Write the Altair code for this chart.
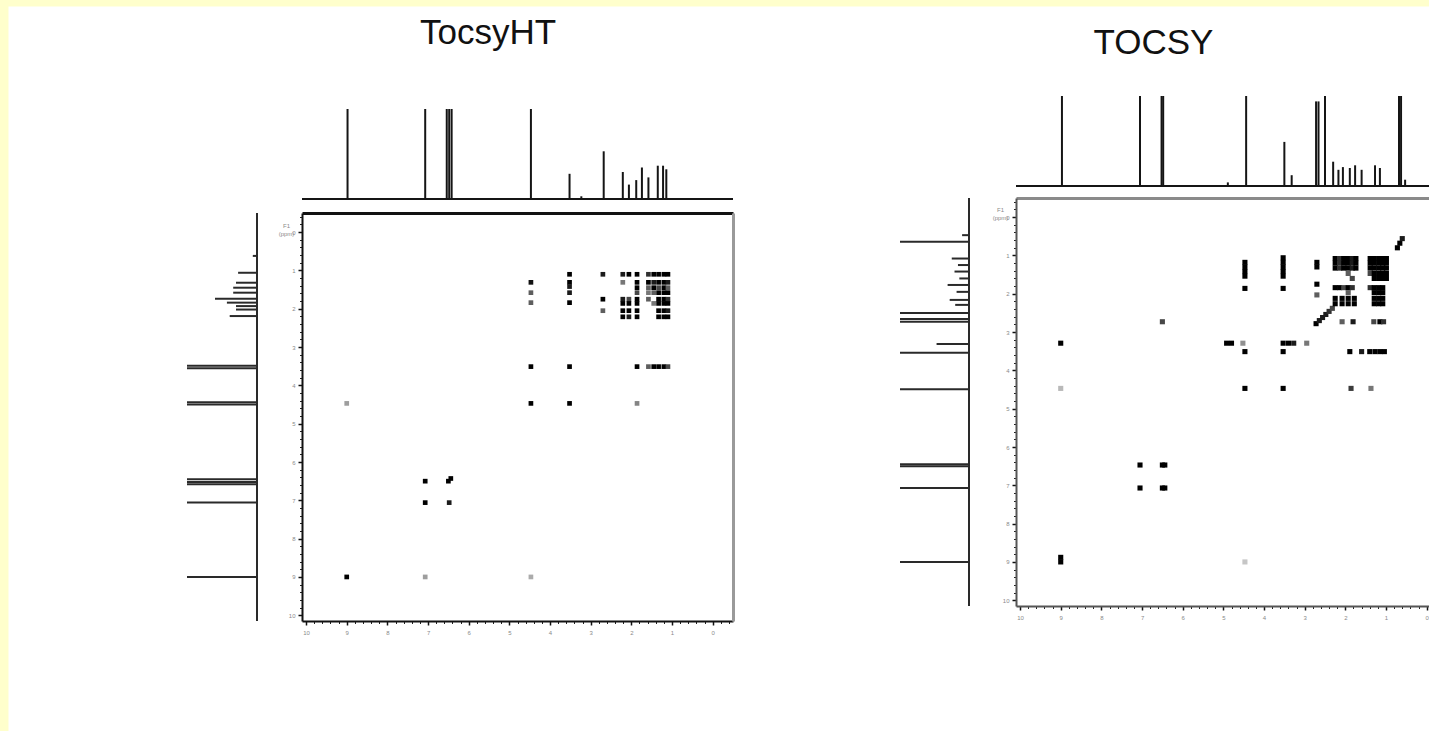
import altair as alt
import pandas as pd

# Chemical-shift window (ppm) shared by both 2D maps and their projections
F2_START, F2_END = 10.1, -0.5     # direct dimension, high -> low, left to right
F1_START, F1_END = -0.5, 10.15    # indirect dimension, low -> high, top to bottom

# ---------------- TocsyHT ----------------
ht_top_ppm = [8.98, 7.07, 6.54, 6.48, 6.42, 4.47, 3.52, 3.23, 2.68,
              2.21, 2.06, 1.88, 1.74, 1.58, 1.35, 1.22, 1.14]
ht_top_int = [1.0, 1.0, 1.0, 1.0, 1.0, 1.0, 0.28, 0.03, 0.53,
              0.30, 0.16, 0.21, 0.35, 0.24, 0.37, 0.37, 0.33]

ht_side_ppm = [9.00, 7.06, 6.58, 6.52, 6.45, 4.50, 4.44, 3.55, 3.49,
               2.19, 2.02, 1.93, 1.84, 1.74, 1.58, 1.45, 1.32, 1.06, 0.62]
ht_side_int = [1.0, 1.0, 1.0, 1.0, 1.0, 1.0, 1.0, 1.0, 1.0,
               0.39, 0.30, 0.30, 0.43, 0.60, 0.34, 0.34, 0.30, 0.27, 0.06]

# cross peaks: (F2 ppm, F1 ppm, contour level)
ht_cross = [
    (9.00, 9.00, 1.0), (7.07, 9.00, 0.35), (4.47, 9.00, 0.3), (9.00, 4.47, 0.35),
    (7.07, 6.50, 1.0), (6.50, 6.50, 1.0), (6.44, 6.43, 1.0),
    (7.07, 7.06, 1.0), (6.48, 7.06, 0.9),
    (4.47, 4.47, 1.0), (3.52, 4.47, 1.0), (1.86, 4.47, 0.45),
    (4.47, 3.51, 1.0), (3.52, 3.51, 1.0), (1.86, 3.51, 1.0), (1.58, 3.51, 0.6),
    (1.45, 3.51, 1.0), (1.33, 3.51, 1.0), (1.20, 3.51, 1.0), (1.10, 3.51, 0.7),
    (4.47, 1.31, 0.95), (4.47, 1.58, 0.6), (4.47, 1.84, 0.6),
    (3.52, 1.10, 1.0), (3.52, 1.31, 1.0), (3.52, 1.42, 0.9), (3.52, 1.58, 0.9), (3.52, 1.84, 1.0),
    (2.70, 1.10, 0.9), (2.70, 1.75, 1.0), (2.70, 2.05, 0.6),
    (2.21, 1.10, 0.9), (2.06, 1.10, 1.0), (1.86, 1.10, 1.0), (1.58, 1.10, 0.8),
    (1.45, 1.10, 1.0), (1.33, 1.10, 1.0), (1.20, 1.10, 1.0), (1.10, 1.10, 1.0),
    (2.21, 1.31, 0.5), (1.86, 1.31, 1.0), (1.58, 1.31, 1.0), (1.45, 1.31, 0.9),
    (1.33, 1.31, 1.0), (1.20, 1.31, 1.0), (1.10, 1.31, 0.9),
    (1.86, 1.45, 1.0), (1.58, 1.45, 0.6), (1.45, 1.45, 1.0), (1.33, 1.45, 0.7),
    (1.20, 1.45, 1.0), (1.10, 1.45, 0.6),
    (1.86, 1.58, 0.7), (1.58, 1.58, 0.5), (1.45, 1.58, 0.6), (1.33, 1.58, 1.0),
    (1.20, 1.58, 1.0), (1.10, 1.58, 1.0),
    (2.21, 1.75, 0.9), (2.06, 1.75, 0.7), (1.86, 1.75, 1.0), (1.58, 1.75, 0.6),
    (1.33, 1.75, 1.0), (1.20, 1.75, 1.0), (1.10, 1.75, 0.8),
    (2.21, 1.86, 1.0), (2.06, 1.86, 1.0), (1.86, 1.86, 1.0), (1.45, 1.86, 0.5),
    (1.33, 1.86, 1.0), (1.20, 1.86, 1.0), (1.10, 1.86, 1.0),
    (2.21, 2.05, 1.0), (2.06, 2.05, 1.0), (1.86, 2.05, 1.0), (1.33, 2.05, 1.0),
    (1.20, 2.05, 1.0), (1.10, 2.05, 0.9),
    (2.21, 2.21, 1.0), (2.06, 2.21, 0.9), (1.86, 2.21, 1.0), (1.33, 2.21, 1.0),
    (1.20, 2.21, 1.0), (1.10, 2.21, 1.0),
]

# ---------------- TOCSY ----------------
ts_top_ppm = [8.97, 7.05, 6.52, 6.48, 4.89, 4.44, 3.50, 3.32, 2.72, 2.66, 2.50,
              2.30, 2.17, 2.06, 1.89, 1.76, 1.60, 1.27, 1.15, 0.68, 0.63, 0.53]
ts_top_int = [1.0, 1.0, 1.0, 1.0, 0.04, 1.0, 0.49, 0.12, 0.94, 0.94, 1.0,
              0.27, 0.18, 0.21, 0.20, 0.23, 0.18, 0.23, 0.20, 1.0, 1.0, 0.07]

ts_side_ppm = [9.00, 7.07, 6.50, 6.45, 4.49, 3.54, 3.31, 2.73, 2.66, 2.50,
               2.29, 2.16, 1.95, 1.77, 1.60, 1.42, 1.25, 1.08, 0.64, 0.47]
ts_side_int = [1.0, 1.0, 1.0, 1.0, 1.0, 1.0, 0.47, 1.0, 1.0, 1.0,
               0.20, 0.28, 0.18, 0.31, 0.14, 0.21, 0.16, 0.25, 1.0, 0.10]

ts_cross = [
    (9.00, 9.00, 1.0), (9.00, 8.88, 1.0), (4.47, 9.00, 0.2), (9.00, 4.47, 0.25),
    (9.00, 3.29, 1.0),
    (7.05, 6.47, 1.0), (6.50, 6.47, 1.0), (6.44, 6.47, 1.0),
    (7.05, 7.07, 1.0), (6.50, 7.07, 1.0), (6.44, 7.07, 1.0),
    (6.50, 2.73, 0.7),
    (4.92, 3.29, 1.0), (4.80, 3.29, 1.0), (4.52, 3.29, 0.4),
    (3.53, 3.29, 1.0), (3.40, 3.29, 1.0), (3.27, 3.29, 0.9), (2.95, 3.29, 0.5),
    (4.47, 3.51, 1.0), (3.53, 3.51, 1.0), (1.89, 3.51, 1.0), (1.60, 3.51, 0.9),
    (1.40, 3.51, 1.0), (1.27, 3.51, 1.0), (1.15, 3.51, 1.0), (1.04, 3.51, 1.0),
    (4.47, 4.47, 1.0), (3.53, 4.47, 1.0), (1.86, 4.47, 0.75), (1.37, 4.47, 0.5),
    (4.47, 1.18, 1.0), (4.47, 1.30, 1.0), (4.47, 1.42, 1.0), (4.47, 1.54, 1.0), (4.47, 1.86, 1.0),
    (3.53, 1.06, 1.0), (3.53, 1.18, 1.0), (3.53, 1.30, 1.0), (3.53, 1.42, 1.0),
    (3.53, 1.54, 1.0), (3.53, 1.86, 1.0),
    (2.70, 1.18, 1.0), (2.70, 1.30, 1.0), (2.70, 1.75, 1.0), (2.70, 2.03, 0.6),
    (2.72, 2.78, 1.0), (2.64, 2.70, 0.9), (2.56, 2.62, 0.9), (2.48, 2.54, 0.9),
    (2.40, 2.46, 0.8), (2.32, 2.38, 0.7),
    (0.72, 0.80, 1.0), (0.66, 0.68, 1.0), (0.60, 0.56, 0.9),
    (2.25, 1.08, 1.0), (2.14, 1.08, 0.8), (2.04, 1.08, 1.0), (1.93, 1.08, 1.0), (1.83, 1.08, 0.9), (1.74, 1.08, 1.0),
    (2.25, 1.20, 1.0), (2.14, 1.20, 0.8), (2.04, 1.20, 1.0), (1.93, 1.20, 1.0), (1.83, 1.20, 0.9), (1.74, 1.20, 1.0),
    (2.25, 1.33, 1.0), (2.14, 1.33, 0.8), (2.04, 1.33, 1.0), (1.93, 1.33, 1.0), (1.83, 1.33, 0.9), (1.74, 1.33, 1.0),
    (1.39, 1.08, 1.0), (1.29, 1.08, 1.0), (1.18, 1.08, 1.0), (1.08, 1.08, 1.0), (0.99, 1.08, 1.0),
    (1.39, 1.20, 1.0), (1.29, 1.20, 1.0), (1.18, 1.20, 1.0), (1.08, 1.20, 1.0), (0.99, 1.20, 1.0),
    (1.39, 1.33, 1.0), (1.29, 1.33, 1.0), (1.18, 1.33, 1.0), (1.08, 1.33, 1.0), (0.99, 1.33, 1.0),
    (1.93, 1.47, 0.6), (1.39, 1.47, 0.7), (1.29, 1.47, 1.0), (1.18, 1.47, 1.0), (1.08, 1.47, 1.0), (0.99, 1.47, 1.0),
    (1.83, 1.60, 0.7), (1.29, 1.60, 1.0), (1.18, 1.60, 1.0), (1.08, 1.60, 1.0), (0.99, 1.60, 1.0),
    (2.25, 1.84, 1.0), (2.14, 1.84, 1.0), (2.04, 1.84, 0.7), (1.93, 1.84, 1.0), (1.83, 1.84, 0.8),
    (1.39, 1.84, 0.8), (1.29, 1.84, 1.0), (1.18, 1.84, 1.0), (1.08, 1.84, 1.0),
    (1.93, 1.97, 0.6), (1.29, 1.97, 1.0), (1.18, 1.97, 1.0), (1.08, 1.97, 1.0),
    (2.25, 2.12, 1.0), (2.08, 2.12, 1.0), (1.93, 2.12, 1.0), (1.78, 2.12, 1.0),
    (1.29, 2.12, 1.0), (1.18, 2.12, 1.0), (1.08, 2.12, 1.0),
    (2.25, 2.26, 1.0), (2.08, 2.26, 1.0), (1.93, 2.26, 1.0), (1.78, 2.26, 1.0),
    (1.29, 2.26, 1.0), (1.18, 2.26, 1.0), (1.08, 2.26, 1.0),
    (2.08, 2.73, 0.6), (1.81, 2.73, 0.9), (1.30, 2.73, 0.7), (1.15, 2.73, 1.0), (1.06, 2.73, 0.8),
]

# ---------------- page layout (pixels inside the plotting view) ----------------
VIEW_W, VIEW_H = 1421, 725
TITLE_FONT = '"Liberation Sans", Arial, Helvetica, sans-serif'
LABEL_FONT = '"Liberation Sans", Arial, sans-serif'

PANELS = {
    "TocsyHT": dict(box_x=[294, 725], box_y=[207, 615], top_y=[193, 103], side_x=[249, 179],
                    title_xy=(479.5, 37), f1_title_y=216, spot=22,
                    frame_top="#111111", frame_right="#9a9a9a", frame_axis="#111111"),
    "TOCSY": dict(box_x=[1008, 1439], box_y=[192, 600], top_y=[180, 90], side_x=[961, 892],
                  title_xy=(1145, 47), f1_title_y=200, spot=26,
                  frame_top="#8a8a8a", frame_right="#8a8a8a", frame_axis="#555555"),
}


def build_panel(name, cross, top_ppm, top_int, side_ppm, side_int):
    g = PANELS[name]
    xs = alt.Scale(domain=[F2_START, F2_END], range=g["box_x"], nice=False, zero=False)
    ys = alt.Scale(domain=[F1_START, F1_END], range=g["box_y"], nice=False, zero=False)
    off_bottom = g["box_y"][1] - VIEW_H
    off_left = -g["box_x"][0]
    off_top = -g["box_y"][0]
    off_right = g["box_x"][1] - VIEW_W

    cross_df = pd.DataFrame(cross, columns=["f2", "f1", "level"])

    tick_style = dict(grid=False, tickColor="#111111", tickWidth=1.5, tickSize=4,
                      labelFontSize=6, labelColor="#8a8a8a", labelFont=LABEL_FONT)

    # 2D contour spots with the labelled F2 / F1 axes
    spots = alt.Chart(cross_df).mark_square(size=g["spot"], opacity=1).encode(
        x=alt.X("f2:Q", scale=xs,
                axis=alt.Axis(orient="bottom", offset=off_bottom, tickCount=11, format="d",
                              title=None, domainColor=g["frame_axis"], domainWidth=2,
                              labelPadding=4, labelFlush=False, **tick_style)),
        y=alt.Y("f1:Q", scale=ys,
                axis=alt.Axis(orient="left", offset=off_left, tickCount=11, format="d",
                              title=["F1", "(ppm)"], titleAngle=0, titleX=-16,
                              titleY=g["f1_title_y"], titleFontSize=6, titleColor="#8a8a8a",
                              titleFontWeight="normal", titleBaseline="top", titleAlign="center",
                              titleFont=LABEL_FONT, domainColor=g["frame_axis"], domainWidth=2,
                              labelPadding=3, labelFlush=False, **tick_style)),
        color=alt.Color("level:Q", scale=alt.Scale(domain=[0, 1], range=["#ffffff", "#000000"]),
                        legend=None),
    )

    # fine ticks every 0.2 ppm along both scales
    minor = alt.Chart(cross_df).mark_square(opacity=0).encode(
        x=alt.X("f2:Q", scale=xs,
                axis=alt.Axis(orient="bottom", offset=off_bottom, tickCount=50, labels=False,
                              domain=False, grid=False, title=None, tickColor="#222222",
                              tickSize=2.5, tickWidth=1)),
        y=alt.Y("f1:Q", scale=ys,
                axis=alt.Axis(orient="left", offset=off_left, tickCount=50, labels=False,
                              domain=False, grid=False, title=None, tickColor="#222222",
                              tickSize=2.5, tickWidth=1)),
    )

    # top and right edges of the map frame
    frame = alt.Chart(cross_df).mark_square(opacity=0).encode(
        x=alt.X("f2:Q", scale=xs,
                axis=alt.Axis(orient="top", offset=off_top, ticks=False, labels=False, grid=False,
                              title=None, domainColor=g["frame_top"], domainWidth=3)),
        y=alt.Y("f1:Q", scale=ys,
                axis=alt.Axis(orient="right", offset=off_right, ticks=False, labels=False,
                              grid=False, title=None, domainColor=g["frame_right"], domainWidth=3)),
    )

    # F2 projection above the map (peaks plus its baseline)
    top_df = pd.DataFrame({
        "f2": top_ppm + [F2_START],
        "f2_end": top_ppm + [F2_END],
        "base": [0.0] * (len(top_ppm) + 1),
        "height": top_int + [0.0],
    })
    top = alt.Chart(top_df).mark_rule(strokeWidth=2, color="#151515").encode(
        x=alt.X("f2:Q", scale=xs,
                axis=alt.Axis(orient="top", offset=0, domain=False, ticks=False, labels=False,
                              grid=False, title=name, titleX=g["title_xy"][0],
                              titleY=g["title_xy"][1], titleFont=TITLE_FONT, titleFontSize=35,
                              titleFontWeight="normal", titleColor="#111111", titleAlign="center",
                              titleBaseline="alphabetic", titleAngle=0)),
        x2=alt.X2("f2_end"),
        y=alt.Y("base:Q", scale=alt.Scale(domain=[0, 1], range=g["top_y"], nice=False, zero=False),
                axis=None),
        y2=alt.Y2("height"),
    )

    # F1 projection to the left of the map
    side_df = pd.DataFrame({
        "f1": side_ppm + [F1_START],
        "f1_end": side_ppm + [F1_END],
        "base": [0.0] * (len(side_ppm) + 1),
        "height": side_int + [0.0],
    })
    side = alt.Chart(side_df).mark_rule(strokeWidth=2, color="#2a2a2a").encode(
        y=alt.Y("f1:Q", scale=ys, axis=None),
        y2=alt.Y2("f1_end"),
        x=alt.X("base:Q", scale=alt.Scale(domain=[0, 1], range=g["side_x"], nice=False, zero=False),
                axis=None),
        x2=alt.X2("height"),
    )
    return [frame, minor, spots, top, side]


layers = (build_panel("TocsyHT", ht_cross, ht_top_ppm, ht_top_int, ht_side_ppm, ht_side_int)
          + build_panel("TOCSY", ts_cross, ts_top_ppm, ts_top_int, ts_side_ppm, ts_side_int))

chart = (
    alt.layer(*layers)
    .resolve_scale(x="independent", y="independent")
    .properties(
        width=VIEW_W,
        height=VIEW_H,
        padding={"left": 8, "top": 6, "right": 0, "bottom": 0},
        autosize=alt.AutoSizeParams(type="none"),
        background="#FFFFCC",
    )
    .configure_view(fill="#ffffff", stroke="transparent")
)

chart.save("out.html", embed_options={"renderer": "svg", "actions": False})
